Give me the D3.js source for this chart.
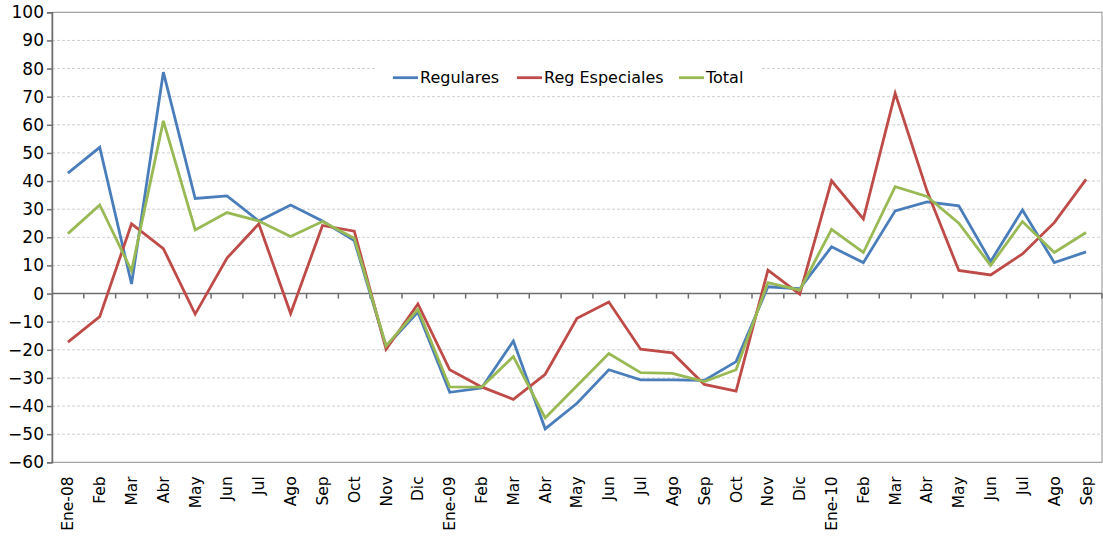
<!DOCTYPE html>
<html>
<head>
<meta charset="utf-8">
<script src="https://cdn.jsdelivr.net/npm/d3@7"></script>
<style>
  body { margin: 0; background: #fff; }
  text { font-family: "DejaVu Sans", sans-serif; fill: #000; }
</style>
</head>
<body>
<div id="chart"></div>
<script>
var categories = ["Ene-08","Feb","Mar","Abr","May","Jun","Jul","Ago","Sep","Oct","Nov","Dic",
  "Ene-09","Feb","Mar","Abr","May","Jun","Jul","Ago","Sep","Oct","Nov","Dic",
  "Ene-10","Feb","Mar","Abr","May","Jun","Jul","Ago","Sep"];

var regulares = [42.8, 52.0, 3.4, 78.7, 33.8, 34.7, 25.8, 31.5, 25.8, 18.8, -18.8, -6.6,
  -35.1, -33.6, -16.9, -48.1, -39.0, -27.1, -30.7, -30.7, -30.9, -24.2, 2.4, 1.7,
  16.6, 11.0, 29.4, 32.6, 31.2, 11.4, 29.7, 11.0, 14.8];

var regEspeciales = [-17.3, -8.2, 24.8, 16.0, -7.3, 12.6, 24.8, -7.1, 24.2, 22.2, -19.8, -3.7,
  -27.1, -33.2, -37.6, -28.7, -8.8, -3.0, -19.8, -21.1, -32.3, -34.7, 8.3, -0.2,
  40.1, 26.5, 71.2, 36.5, 8.2, 6.6, 14.1, 25.2, 40.6];

var total = [21.3, 31.5, 8.1, 61.4, 22.6, 28.8, 25.8, 20.3, 25.6, 19.7, -18.6, -5.6,
  -33.2, -33.3, -22.4, -44.2, -32.8, -21.3, -28.1, -28.4, -31.3, -27.1, 3.9, 1.2,
  22.8, 14.6, 38.0, 34.5, 25.0, 10.0, 25.6, 14.6, 21.7];

var yTicks = [-60, -50, -40, -30, -20, -10, 0, 10, 20, 30, 40, 50, 60, 70, 80, 90, 100];

var seriesNames = ["Regulares", "Reg Especiales", "Total"];
var seriesColors = ["#4a7ebb", "#be4b48", "#98b954"];

(function(){
  var width = 1103,
    height = 537;
  var left = 52, right = 1102, top = 12.3, bottom = 462.3;

  var svg = d3.select("#chart")
    .append("svg")
    .attr("width", width)
    .attr("height", height)

  var x = d3.scaleBand()
    .domain(d3.range(categories.length))
    .range([left, right])

  var y = d3.scaleLinear()
    .domain([-60, 100])
    .range([bottom, top])

  // gridlines
  svg.append("g")
    .selectAll("line")
    .data(yTicks.filter(function(d){ return d != 0 && d != -60 && d != 100 }))
    .enter().append("line")
    .attr("x1", left)
    .attr("x2", right)
    .attr("y1", function(d){ return y(d) })
    .attr("y2", function(d){ return y(d) })
    .attr("stroke", "#cfcfcf")
    .attr("stroke-width", 1)
    .attr("stroke-dasharray", "3,2")

  // plot border
  svg.append("rect")
    .attr("x", left)
    .attr("y", top)
    .attr("width", right - left)
    .attr("height", bottom - top)
    .attr("fill", "none")
    .attr("stroke", "#8c8c8c")
    .attr("stroke-width", 1)

  // y axis
  var yAxis = svg.append("g")
    .attr("transform", "translate(" + left + ",0)")
    .call(d3.axisLeft(y).tickValues(yTicks).tickSize(5).tickPadding(3))
  yAxis.selectAll("path, line").attr("stroke", "#6e6e6e").attr("stroke-width", 1.5)
  yAxis.selectAll("text")
    .style("font-family", "DejaVu Sans")
    .style("font-size", "17px")
    .attr("fill", "#000")

  // category axis on the zero line
  var bounds = x.domain().map(function(i){ return x(i) }).concat([x.range()[1]])
  svg.append("line")
    .attr("x1", left)
    .attr("x2", right)
    .attr("y1", y(0))
    .attr("y2", y(0))
    .attr("stroke", "#6e6e6e")
    .attr("stroke-width", 1.5)
  svg.append("g")
    .selectAll("line")
    .data(bounds.slice(1))
    .enter().append("line")
    .attr("x1", function(d){ return d })
    .attr("x2", function(d){ return d })
    .attr("y1", y(0))
    .attr("y2", y(0) + 5)
    .attr("stroke", "#6e6e6e")
    .attr("stroke-width", 1.5)

  // rotated category labels below the plot
  svg.append("g")
    .selectAll("text")
    .data(categories)
    .enter().append("text")
    .attr("transform", function(d, i){
      return "translate(" + (x(i) + x.bandwidth() / 2) + "," + (bottom + 14) + ") rotate(-90)"
    })
    .attr("text-anchor", "end")
    .attr("dy", "0.35em")
    .style("font-size", "15.5px")
    .text(function(d){ return d })

  // lines
  var line = d3.line()
    .x(function(d, i){ return x(i) + x.bandwidth() / 2 })
    .y(function(d){ return y(d) })

  var series = [regulares, regEspeciales, total]
  svg.append("g")
    .selectAll("path")
    .data(series)
    .enter().append("path")
    .attr("d", line)
    .attr("fill", "none")
    .attr("stroke", function(d, i){ return seriesColors[i] })
    .attr("stroke-width", 2.8)
    .attr("stroke-linejoin", "miter")

  // legend
  var legend = svg.append("g")
  legend.append("rect")
    .attr("x", 375)
    .attr("y", 60)
    .attr("width", 387)
    .attr("height", 34)
    .attr("fill", "#fff")
  var legendX = [393, 517, 679]
  var items = legend.selectAll("g")
    .data(seriesNames)
    .enter().append("g")
    .attr("transform", function(d, i){ return "translate(" + legendX[i] + ",77.7)" })
  items.append("line")
    .attr("x1", 0)
    .attr("x2", 25)
    .attr("stroke", function(d, i){ return seriesColors[i] })
    .attr("stroke-width", 2.8)
  items.append("text")
    .attr("x", 27)
    .attr("dy", "0.35em")
    .style("font-size", "16px")
    .text(function(d){ return d })
})();
</script>
</body>
</html>
